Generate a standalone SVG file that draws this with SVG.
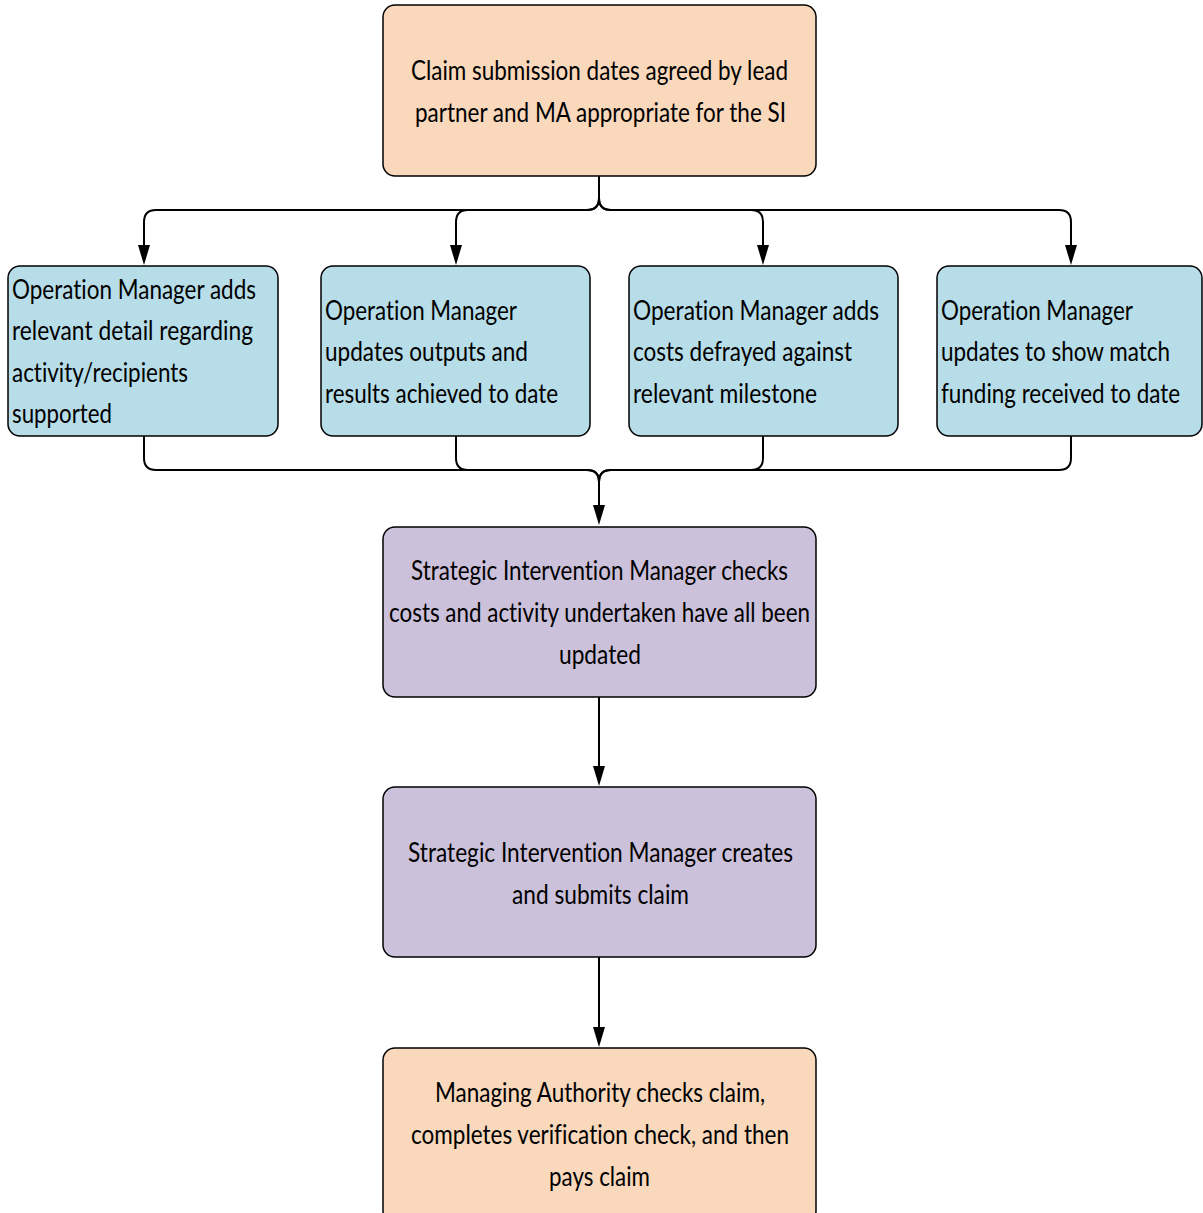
<svg xmlns="http://www.w3.org/2000/svg" width="1203" height="1213" viewBox="0 0 1203 1213">
<style>
.box{stroke:#000;stroke-width:1.5}
.or{fill:#F9D8BC}
.bl{fill:#B7DDE8}
.pu{fill:#CCC1DA}
text{font-family:Lato,"Liberation Sans",sans-serif;font-size:27px;fill:#000;font-variant-ligatures:none}
.c{text-anchor:middle}
.conn path{fill:none;stroke:#000;stroke-width:2}
.conn .ah{fill:#000;stroke:none}
</style>
<rect width="1203" height="1213" fill="#fff"/>
<g class="conn">
<path d="M599,176 V198 Q599,210 587,210 H156 Q144,210 144,222 V250"/>
<path d="M599,176 V198 Q599,210 587,210 H468 Q456,210 456,222 V250"/>
<path d="M599,176 V198 Q599,210 611,210 H751 Q763,210 763,222 V250"/>
<path d="M599,176 V198 Q599,210 611,210 H1059 Q1071,210 1071,222 V250"/>
<path d="M144,436 V458 Q144,470 156,470 H587 Q599,470 599,482 V510"/>
<path d="M456,436 V458 Q456,470 468,470 H587 Q599,470 599,482 V510"/>
<path d="M763,436 V458 Q763,470 751,470 H611 Q599,470 599,482 V510"/>
<path d="M1071,436 V458 Q1071,470 1059,470 H611 Q599,470 599,482 V510"/>
<path d="M599,697 V770"/>
<path d="M599,957 V1030"/>
<path class="ah" d="M138,245 H150 L144,265 Z"/>
<path class="ah" d="M450,245 H462 L456,265 Z"/>
<path class="ah" d="M757,245 H769 L763,265 Z"/>
<path class="ah" d="M1065,245 H1077 L1071,265 Z"/>
<path class="ah" d="M593,505 H605 L599,525 Z"/>
<path class="ah" d="M593,766 H605 L599,786 Z"/>
<path class="ah" d="M593,1027 H605 L599,1047 Z"/>
</g>
<g id="n1">
<rect class="box or" x="383" y="5" width="433" height="171" rx="12"/>
<text class="c" x="599.5" y="80" textLength="377" lengthAdjust="spacingAndGlyphs">Claim submission dates agreed by lead</text>
<text class="c" x="600.5" y="122" textLength="371" lengthAdjust="spacingAndGlyphs">partner and MA appropriate for the SI</text>
</g>
<g id="n2">
<rect class="box bl" x="8" y="266" width="270" height="170" rx="12"/>
<text x="12" y="299" textLength="244" lengthAdjust="spacingAndGlyphs">Operation Manager adds</text>
<text x="12" y="340" textLength="241" lengthAdjust="spacingAndGlyphs">relevant detail regarding</text>
<text x="12" y="382" textLength="176" lengthAdjust="spacingAndGlyphs">activity/recipients</text>
<text x="12" y="423" textLength="100" lengthAdjust="spacingAndGlyphs">supported</text>
</g>
<g id="n3">
<rect class="box bl" x="321" y="266" width="269" height="170" rx="12"/>
<text x="325" y="320" textLength="192" lengthAdjust="spacingAndGlyphs">Operation Manager</text>
<text x="325" y="361" textLength="203" lengthAdjust="spacingAndGlyphs">updates outputs and</text>
<text x="325" y="403" textLength="233" lengthAdjust="spacingAndGlyphs">results achieved to date</text>
</g>
<g id="n4">
<rect class="box bl" x="629" y="266" width="269" height="170" rx="12"/>
<text x="633" y="320" textLength="246" lengthAdjust="spacingAndGlyphs">Operation Manager adds</text>
<text x="633" y="361" textLength="219" lengthAdjust="spacingAndGlyphs">costs defrayed against</text>
<text x="633" y="403" textLength="184" lengthAdjust="spacingAndGlyphs">relevant milestone</text>
</g>
<g id="n5">
<rect class="box bl" x="937" y="266" width="265" height="170" rx="12"/>
<text x="941" y="320" textLength="192" lengthAdjust="spacingAndGlyphs">Operation Manager</text>
<text x="941" y="361" textLength="229" lengthAdjust="spacingAndGlyphs">updates to show match</text>
<text x="941" y="403" textLength="239" lengthAdjust="spacingAndGlyphs">funding received to date</text>
</g>
<g id="n6">
<rect class="box pu" x="383" y="527" width="433" height="170" rx="12"/>
<text class="c" x="599.5" y="580" textLength="377" lengthAdjust="spacingAndGlyphs">Strategic Intervention Manager checks</text>
<text class="c" x="599.5" y="622" textLength="421" lengthAdjust="spacingAndGlyphs">costs and activity undertaken have all been</text>
<text class="c" x="600" y="664" textLength="82" lengthAdjust="spacingAndGlyphs">updated</text>
</g>
<g id="n7">
<rect class="box pu" x="383" y="787" width="433" height="170" rx="12"/>
<text class="c" x="600.5" y="862" textLength="385" lengthAdjust="spacingAndGlyphs">Strategic Intervention Manager creates</text>
<text class="c" x="600.5" y="904" textLength="177" lengthAdjust="spacingAndGlyphs">and submits claim</text>
</g>
<g id="n8">
<rect class="box or" x="383" y="1048" width="433" height="175" rx="12"/>
<text class="c" x="600" y="1102" textLength="330" lengthAdjust="spacingAndGlyphs">Managing Authority checks claim,</text>
<text class="c" x="600" y="1144" textLength="378" lengthAdjust="spacingAndGlyphs">completes verification check, and then</text>
<text class="c" x="599.5" y="1186" textLength="101" lengthAdjust="spacingAndGlyphs">pays claim</text>
</g>
</svg>
